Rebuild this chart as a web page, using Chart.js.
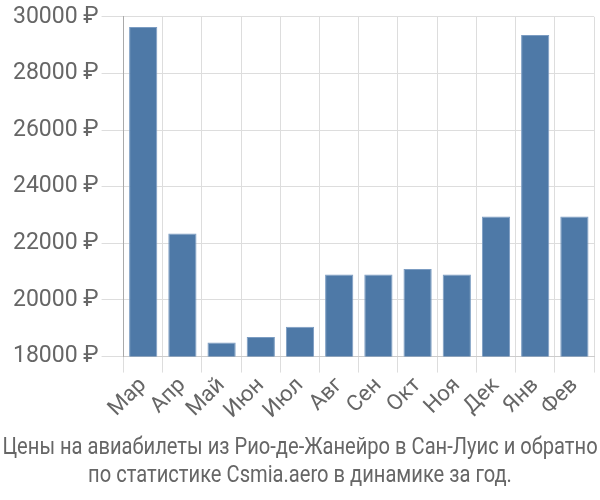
<!DOCTYPE html>
<html>
<head>
<meta charset="utf-8">
<script src="https://cdn.jsdelivr.net/npm/chart.js@4"></script>
<style>
    html, body { margin: 0; padding: 0; background: #ffffff; }
    #wrap { width: 600px; height: 500px; }
</style>
</head>
<body>
<div id="wrap"><canvas id="price-chart"></canvas></div>
<script>
// Цены по месяцам
const months = ['Мар', 'Апр', 'Май', 'Июн', 'Июл', 'Авг', 'Сен', 'Окт', 'Ноя', 'Дек', 'Янв', 'Фев'];
const prices = [29640, 22350, 18500, 18690, 19050, 20900, 20900, 21090, 20900, 22950, 29360, 22950];
const titleLines = [
    'Цены на авиабилеты из Рио-де-Жанейро в Сан-Луис и обратно',
    'по статистике Csmia.aero в динамике за год.'
];
const yMin = 18000;
const yMax = 30000;
const yStep = 2000;

// подпись снизу узким шрифтом (Roboto, сжатый по горизонтали)
const bottomTitle = {
    id: 'bottomTitle',
    afterDraw(chart) {
        const c = chart.ctx;
        const cx = chart.width / 2;
        c.save();
        c.font = '23px Roboto';
        c.fillStyle = '#666666';
        c.textAlign = 'center';
        c.textBaseline = 'middle';
        titleLines.forEach((line, i) => {
            c.save();
            c.translate(cx, chart.height - 52 + i * 28);
            c.scale(0.875, 1);
            c.fillText(line, 0, 0);
            c.restore();
        });
        c.restore();
    }
};

const ctx = document.getElementById('price-chart').getContext('2d');

new Chart(ctx, {
    type: 'bar',
    data: {
        labels: months,
        datasets: [{
            data: prices,
            backgroundColor: '#4e79a7',
            borderColor: '#7b9cc2',
            borderWidth: 1
        }]
    },
    options: {
        responsive: true,
        maintainAspectRatio: false,
        animation: false,
        layout: {
            padding: { top: 6, right: 6, left: 10, bottom: 76 }
        },
        plugins: {
            legend: { display: false },
            tooltip: { enabled: false },
            title: { display: false }
        },
        scales: {
            x: {
                grid: {
                    color: '#dddddd',
                    offset: true,
                    tickLength: 16
                },
                border: { color: '#cccccc' },
                ticks: {
                    color: '#666666',
                    font: { family: 'Roboto', size: 22 },
                    maxRotation: 45,
                    minRotation: 45,
                    autoSkip: false,
                    padding: 0
                }
            },
            y: {
                min: yMin,
                max: yMax,
                grid: {
                    color: '#dddddd',
                    tickLength: 22
                },
                border: { color: '#aaaaaa' },
                ticks: {
                    stepSize: yStep,
                    color: '#666666',
                    font: { family: 'Roboto', size: 23 },
                    padding: 3,
                    callback: function(value) {
                        return value + ' ₽';
                    }
                }
            }
        }
    },
    plugins: [bottomTitle]
});
</script>
</body>
</html>
